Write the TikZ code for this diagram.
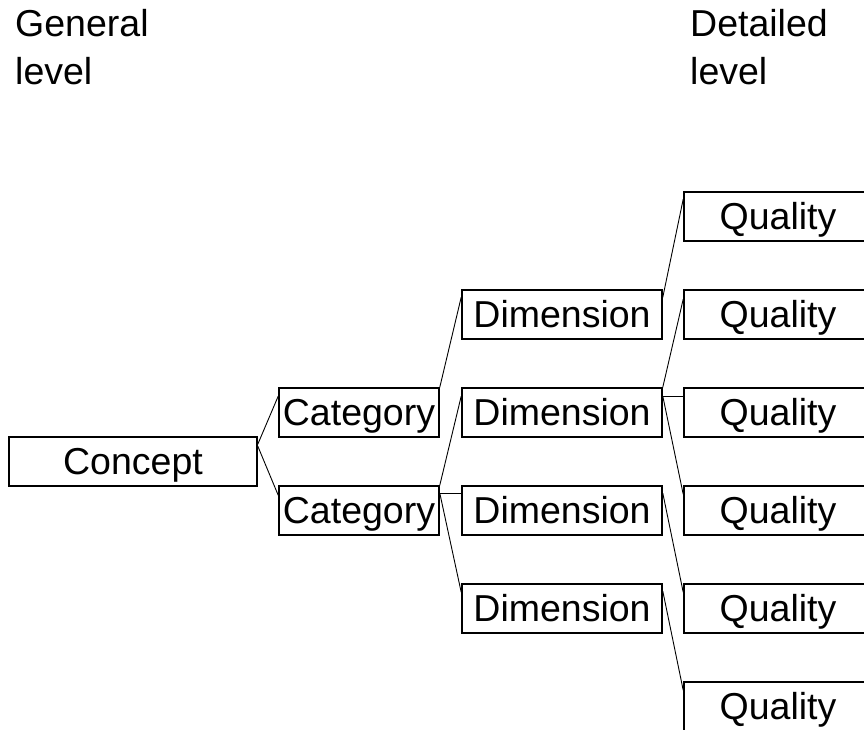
\documentclass[tikz,border=0pt]{standalone}
\usepackage{fontspec}
\setmainfont{Liberation Sans}
\usepackage{tikz}

\begin{document}
\begin{tikzpicture}[x=1pt, y=1pt,
    every node/.style={font=\fontsize{37.5}{48}\selectfont, inner sep=0pt},
    box/.style={draw, line width=1.6pt, minimum width=#1, minimum height=49pt, text height=27pt, text depth=0pt},
    link/.style={line width=0.9pt}]
        \useasboundingbox (0,0) rectangle (864,730);
        % Level headings
        \node[anchor=north west, align=left] (general) at (15,721) {General\\level};
        \node[anchor=north west, align=left] (detailed) at (690,721) {Detailed\\level};

        % Boxes
        \node[box=248pt] (concept) at (133,268.5) {Concept};
        \node[box=160pt] (cat1) at (359,317.5) {Category};
        \node[box=160pt] (cat2) at (359,219.5) {Category};
        \node[box=200pt] (dim1) at (562,415.5) {Dimension};
        \node[box=200pt] (dim2) at (562,317.5) {Dimension};
        \node[box=200pt] (dim3) at (562,219.5) {Dimension};
        \node[box=200pt] (dim4) at (562,121.5) {Dimension};
        \node[box=188pt] (q1) at (778,513.5) {Quality};
        \node[box=188pt] (q2) at (778,415.5) {Quality};
        \node[box=188pt] (q3) at (778,317.5) {Quality};
        \node[box=188pt] (q4) at (778,219.5) {Quality};
        \node[box=188pt] (q5) at (778,121.5) {Quality};
        \node[box=188pt] (q6) at (778,23.5) {Quality};

        % Connectors
        \draw[link] ([yshift=-8pt]concept.north east) -- ([yshift=-9pt]cat1.north west);
        \draw[link] ([yshift=-10pt]concept.north east) -- ([yshift=-10pt]cat2.north west);
        \draw[link] (cat1.north east) -- ([yshift=-8pt]dim1.north west);
        \draw[link] (cat2.north east) -- ([yshift=-9pt]dim2.north west);
        \draw[link] ([yshift=-8pt]cat2.north east) -- ([yshift=-8pt]dim3.north west);
        \draw[link] ([yshift=-8pt]cat2.north east) -- ([yshift=-9pt]dim4.north west);
        \draw[link] ([yshift=-8pt]dim1.north east) -- ([yshift=-8pt]q1.north west);
        \draw[link] (dim2.north east) -- ([yshift=-10pt]q2.north west);
        \draw[link] ([yshift=-9pt]dim2.north east) -- ([yshift=-9pt]q3.north west);
        \draw[link] ([yshift=-9pt]dim2.north east) -- ([yshift=-9pt]q4.north west);
        \draw[link] ([yshift=-8pt]dim3.north east) -- ([yshift=-9pt]q5.north west);
        \draw[link] ([yshift=-8pt]dim4.north east) -- ([yshift=-9pt]q6.north west);
      \end{tikzpicture}
\end{document}
